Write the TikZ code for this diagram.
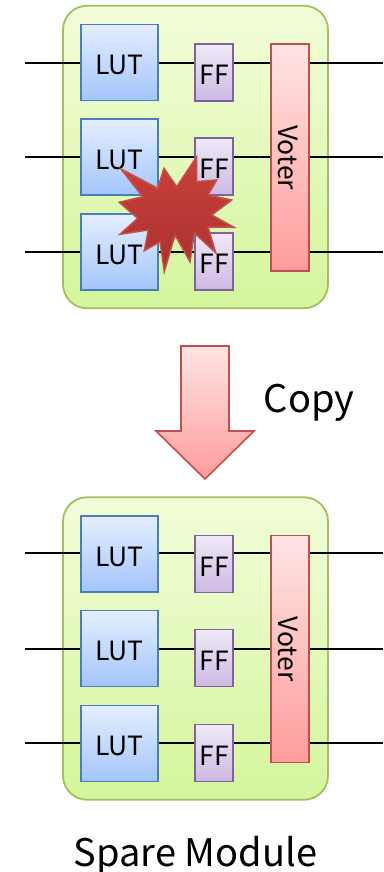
\documentclass[tikz,border=0pt]{standalone}
\usepackage{fontspec}
\setmainfont{Noto Sans CJK JP}
\definecolor{modTop}{HTML}{F2FDD9}
\definecolor{modBot}{HTML}{D4F59C}
\definecolor{modEdge}{HTML}{A3BF62}
\definecolor{lutTop}{HTML}{E4EEFF}
\definecolor{lutBot}{HTML}{A3C5FB}
\definecolor{lutEdge}{HTML}{4A7EBB}
\definecolor{ffTop}{HTML}{F0E9F8}
\definecolor{ffBot}{HTML}{CDB9E3}
\definecolor{ffEdge}{HTML}{7F63A1}
\definecolor{redTop}{HTML}{FFE4E4}
\definecolor{redBot}{HTML}{FF9C9C}
\definecolor{redEdge}{HTML}{C0504D}
\definecolor{starTop}{HTML}{CB3F3B}
\definecolor{starBot}{HTML}{A8322F}
\definecolor{starEdge}{HTML}{C4504C}
\tikzset{
  modbox/.style={draw=modEdge,line width=1.8pt,top color=modTop,bottom color=modBot,rounded corners=24pt,inner sep=0pt,minimum width=265pt,minimum height=302.5pt},
  boxtext/.style={font=\fontsize{26.5}{26.5}\selectfont,text height=24pt,text depth=0pt},
  lutbox/.style={draw=lutEdge,line width=1.5pt,top color=lutTop,bottom color=lutBot,inner sep=0pt,minimum width=77pt,minimum height=76pt,boxtext},
  ffbox/.style={draw=ffEdge,line width=1.5pt,top color=ffTop,bottom color=ffBot,inner sep=0pt,minimum width=38pt,minimum height=57pt,boxtext},
  votbox/.style={draw=redEdge,line width=1.5pt,top color=redTop,bottom color=redBot,inner sep=0pt,minimum width=38pt,minimum height=227pt},
  wire/.style={draw=black,line width=1.6pt},
  thickwire/.style={draw=black,line width=2.6pt},
  redshape/.style={draw=redEdge,line width=1.6pt,top color=redTop,bottom color=redBot,line join=miter},
  lab/.style={inner sep=0pt,font=\fontsize{38}{38}\selectfont,text height=26pt,text depth=0pt}
}
\newcommand{\mymodule}[6]{
  \node[modbox] (mod#1) at (195.5,{157+#2}) {};
  \coordinate (in1#1) at (25,#3);
  \coordinate (out1#1) at (383,#3);
  \coordinate (in2#1) at (25,#4);
  \coordinate (out2#1) at (383,#4);
  \coordinate (in3#1) at (25,#5);
  \coordinate (out3#1) at (383,#5);
  \node[votbox] (vot#1) at (290,{157.5+#2}) {};
  \node[lutbox] (lutA#1) at (119.5,{62.5+#2}) {LUT};
  \node[lutbox] (lutB#1) at (119.5,{157+#2}) {LUT};
  \node[lutbox] (lutC#1) at (119.5,{252+#2}) {LUT};
  \node[ffbox] (ffA#1) at (214,{72.5+#2}) {FF};
  \node[ffbox] (ffB#1) at (214,{166.5+#2}) {FF};
  \node[ffbox] (ffC#1) at (214,{261.5+#2}) {FF};
  \draw[wire] (in1#1) -- (lutA#1.west |- in1#1);
  \draw[wire] (lutA#1.east |- in1#1) -- (ffA#1.west |- in1#1);
  \draw[wire] (ffA#1.east |- in1#1) -- (vot#1.west |- in1#1);
  \draw[wire] (vot#1.east |- in1#1) -- (out1#1);
  \draw[#6] (in2#1) -- (lutB#1.west |- in2#1);
  \draw[#6] (lutB#1.east |- in2#1) -- (ffB#1.west |- in2#1);
  \draw[#6] (ffB#1.east |- in2#1) -- (vot#1.west |- in2#1);
  \draw[#6] (vot#1.east |- in2#1) -- (out2#1);
  \draw[wire] (in3#1) -- (lutC#1.west |- in3#1);
  \draw[wire] (lutC#1.east |- in3#1) -- (ffC#1.west |- in3#1);
  \draw[wire] (ffC#1.east |- in3#1) -- (vot#1.west |- in3#1);
  \draw[wire] (vot#1.east |- in3#1) -- (out3#1);
  \node[rotate=-90,inner sep=0pt,boxtext] (votlab#1) at (vot#1) {Voter};
}
\begin{document}
\begin{tikzpicture}[x=1pt,y=-1pt]
\useasboundingbox (0,0) rectangle (383,872);
\mymodule{t}{0}{63}{157}{252}{thickwire}
\mymodule{b}{491.5}{553}{649}{743}{wire}
% burst
\path[draw=starEdge,line width=1.5pt,top color=starTop,bottom color=starBot,line join=miter]
 (121,169) -- (157.7,188.3) -- (164,168.3) -- (176.7,186.7) -- (196.7,156.7) -- (196.7,181.7)
 -- (216.7,180) -- (208,195) -- (231.7,200) -- (211.7,215) -- (234,227.3) -- (208,227)
 -- (215.7,252.7) -- (194.3,233) -- (190,261.7) -- (175,235) -- (164.3,271.7) -- (160,241.7)
 -- (144.3,250.7) -- (148.3,230) -- (120,234.3) -- (137.7,218.3) -- (119.3,202.3) -- (142.7,196.7) -- cycle;
% copy arrow
\path[redshape] (181,346) -- (229,346) -- (229,431) -- (254,431) -- (205,479) -- (156,431) -- (181,431) -- cycle;
\node[lab,anchor=center] (copylab) at (309,399) {Copy};
\node[lab,anchor=center] (sparelab) at (195.5,853) {Spare Module};
\end{tikzpicture}
\end{document}
